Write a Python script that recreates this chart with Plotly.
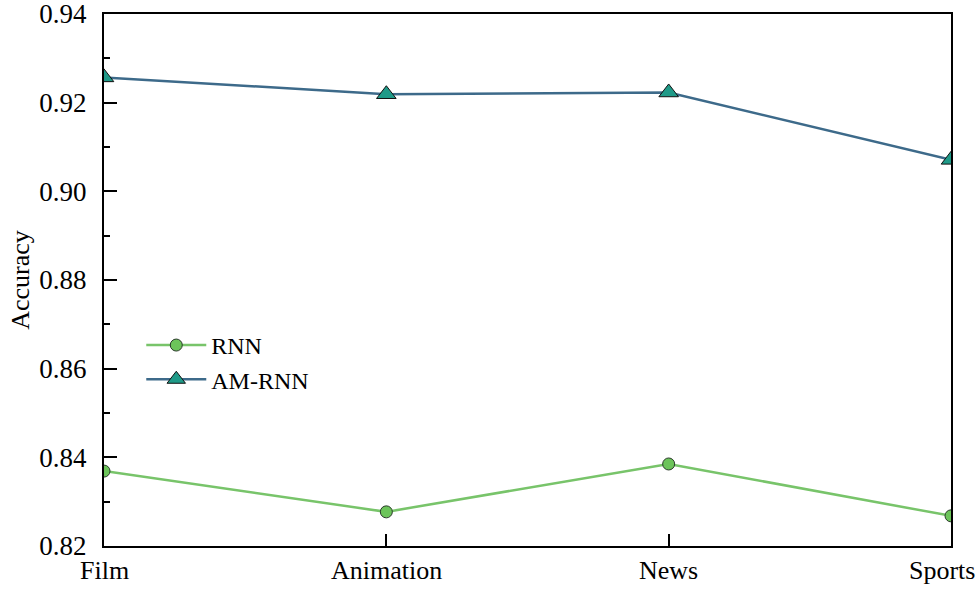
import plotly.graph_objects as go

categories = ["Film", "Animation", "News", "Sports"]
rnn = [0.8369, 0.8277, 0.8385, 0.8268]
am_rnn = [0.9257, 0.9219, 0.9223, 0.9071]
y_ticks = [0.82, 0.84, 0.86, 0.88, 0.90, 0.92, 0.94]
y_tick_labels = ["0.82", "0.84", "0.86", "0.88", "0.90", "0.92", "0.94"]

FONT = "Liberation Serif"

fig = go.Figure()
fig.add_trace(go.Scatter(
    x=categories, y=rnn, name="RNN", mode="lines+markers",
    line=dict(color="#78c46a", width=2.5),
    marker=dict(symbol="circle", size=12, color="#6cc45a",
                line=dict(color="#2a3a2a", width=1)),
))
fig.add_trace(go.Scatter(
    x=categories, y=am_rnn, name="AM-RNN", mode="lines+markers",
    line=dict(color="#3d6a8a", width=2.5),
    marker=dict(symbol="triangle-up", size=17, color="#1f9a88",
                line=dict(color="#111111", width=1)),
))

# x-axis category labels placed at the category positions
for i, c in enumerate(categories):
    last = i == len(categories) - 1
    fig.add_annotation(
        x=c, xref="x", y=0, yref="paper", text=c, showarrow=False,
        xanchor="right" if last else "center", yanchor="top",
        xshift=26 if last else 0, yshift=-8,
        font=dict(size=26, family=FONT, color="black"),
    )

fig.update_layout(
    width=979, height=591,
    margin=dict(l=104, r=28, t=14, b=45),
    paper_bgcolor="white", plot_bgcolor="white",
    font=dict(family=FONT, size=26, color="black"),
    showlegend=True,
    legend=dict(x=0.044, y=0.345, xanchor="left", yanchor="middle",
                bgcolor="rgba(0,0,0,0)", font=dict(size=24, family=FONT),
                tracegroupgap=0, itemwidth=60),
)
fig.update_xaxes(
    type="category", range=[0, 3], automargin=False,
    showline=True, linecolor="black", linewidth=2, mirror=True,
    ticks="inside", ticklen=12, tickwidth=2, tickcolor="black",
    showgrid=False, zeroline=False, showticklabels=False,
)
fig.update_yaxes(
    range=[0.82, 0.94], automargin=False, ticklabeloverflow="allow",
    tickvals=y_ticks, ticktext=y_tick_labels,
    showline=True, linecolor="black", linewidth=2, mirror=True,
    ticks="inside", ticklen=13, tickwidth=2, tickcolor="black",
    minor=dict(ticks="inside", ticklen=6, tickwidth=2, tickcolor="black", dtick=0.01, showgrid=False),
    showgrid=False, zeroline=False,
    tickfont=dict(size=27, family=FONT), ticklabelstandoff=10,
    title=dict(text="Accuracy", font=dict(size=26, family=FONT), standoff=2),
)

fig.write_html(
    "out.html",
    config={"displayModeBar": False},
    post_script="document.body.style.margin='0';document.body.style.overflow='hidden';",
)
